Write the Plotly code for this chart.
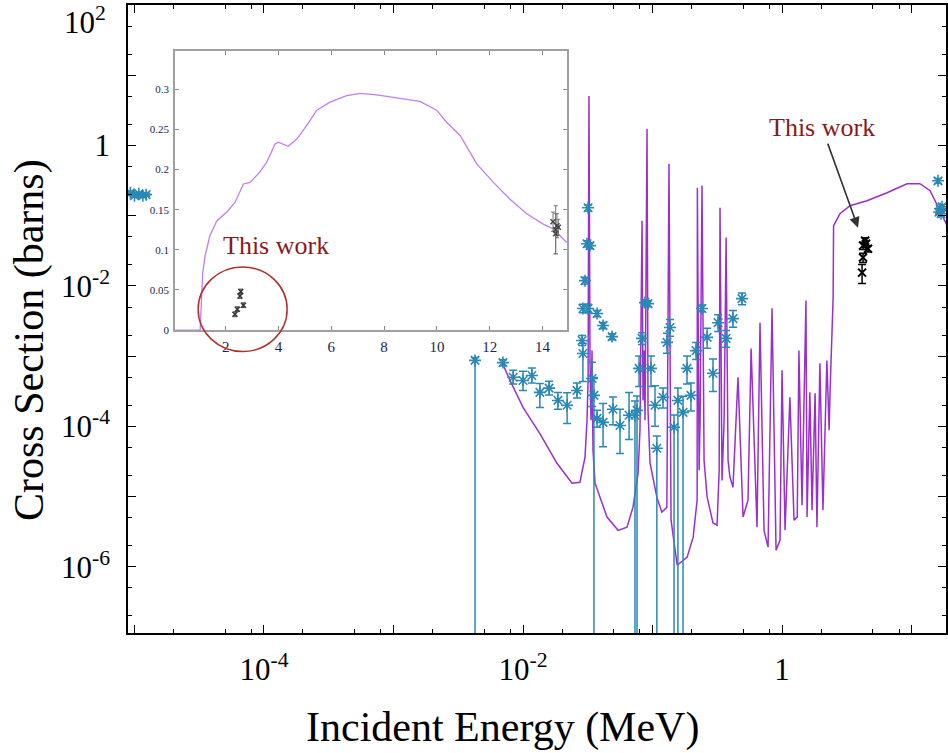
import math
import plotly.graph_objects as go

# ---------------- data (main panel, log-log) ----------------
purple_E = [6.9e-3, 7.94e-3, 1.0e-2, 1.35e-2, 1.83e-2, 2.39e-2, 2.75e-2, 3.01e-2, 3.12e-2, 3.18e-2,
            3.23e-2, 3.29e-2, 3.35e-2, 3.41e-2, 3.47e-2, 3.6e-2, 4.45e-2, 5.42e-2, 6.35e-2, 7.07e-2,
            7.73e-2, 8.0e-2, 8.3e-2, 8.45e-2, 8.6e-2, 8.75e-2, 9.07e-2, 9.23e-2, 9.57e-2, 0.108,
            0.118, 0.129, 0.134, 0.139, 0.155, 0.185, 0.206, 0.221, 0.222, 0.229,
            0.233, 0.241, 0.25, 0.264, 0.293, 0.315, 0.327, 0.332, 0.344, 0.357,
            0.37, 0.383, 0.396, 0.418, 0.457, 0.5, 0.546, 0.577, 0.641, 0.676,
            0.726, 0.78, 0.837, 0.899, 0.965, 1.0, 1.055, 1.15, 1.238, 1.31,
            1.35, 1.427, 1.53, 1.56, 1.64, 1.705, 1.8, 1.86, 1.96, 2.07,
            2.22, 2.31, 2.35, 2.48, 2.50, 2.8, 3.35, 4.53, 6.47, 9.23,
            11.6, 13.9, 16.6, 19.1]
purple_xs = [8.1e-4, 4.5e-4, 1.86e-4, 7.9e-5, 2.98e-5, 1.55e-5, 1.6e-5, 3.6e-5, 1.22e-4, 4.5e-4,
             5.1, 8.7e-4, 1.22e-4, 1.2e-3, 4.56e-5, 1.55e-5, 5.1e-6, 3.3e-6, 3.65e-6, 7.05e-6,
             2.14e-5, 8.8e-5, 8.5e-2, 2.34e-4, 1.2e-3, 1.22e-4, 1.73, 1.69e-4, 2.98e-5, 9.8e-6,
             6.0e-6, 7.0e-6, 0.55, 4.6e-6, 1.05e-6, 1.37e-6, 2.64e-6, 8.9e-6, 0.25, 2.37e-5,
             1.22e-4, 0.27, 3.28e-5, 9.8e-6, 4.2e-6, 3.9e-6, 2.37e-5, 0.13, 1.7e-5, 1.22e-4,
             0.049, 3.28e-5, 1.9e-5, 1.35e-5, 5.0e-4, 5.1e-6, 8.9e-6, 1.29e-3, 3.65e-6, 3.0e-3,
             3.3e-6, 1.9e-6, 4.8e-3, 1.72e-6, 2.4e-6, 6.3e-4, 3.3e-6, 2.6e-4, 4.6e-6, 5.1e-6,
             1.2e-3, 7.5e-6, 6.2e-3, 5.1e-6, 3.05e-4, 6.4e-6, 2.95e-4, 3.65e-6, 7.9e-4, 6.4e-6,
             8.7e-4, 8.8e-5, 3.24e-4, 6.8e-3, 0.072, 0.107, 0.139, 0.164, 0.213, 0.286,
             0.286, 0.228, 0.118, 0.068]

blue_E = [9.3e-6, 1.0e-5, 1.08e-5, 1.16e-5, 1.23e-5,
          4.26e-3, 7.0e-3, 8.4e-3, 1.0e-2, 1.17e-2, 1.35e-2, 1.59e-2, 1.86e-2, 2.19e-2, 2.61e-2,
          2.9e-2, 2.86e-2, 2.9e-2, 3.18e-2, 3.01e-2, 3.12e-2, 3.29e-2, 3.18e-2, 3.73e-2, 4.15e-2,
          4.87e-2, 3.41e-2, 3.53e-2, 3.73e-2, 4.15e-2, 4.95e-2, 5.61e-2, 6.59e-2, 7.32e-2, 7.59e-2,
          7.87e-2, 8.3e-2, 8.75e-2, 9.23e-2, 9.73e-2, 0.1045, 0.108, 0.1205, 0.1365, 0.1294,
          0.1466, 0.157, 0.172, 0.1846, 0.198, 0.217, 0.241, 0.264, 0.293, 0.321,
          0.37, 0.418, 0.491,
          16.0, 16.6, 16.9, 16.3, 17.2]
blue_xs = [0.213, 0.193, 0.206, 0.193, 0.2,
           8.7e-4, 8.1e-4, 5.0e-4, 4.5e-4, 5.3e-4, 3.05e-4, 3.5e-4, 2.34e-4, 2.0e-4, 3.25e-4,
           1.09e-3, 1.67e-3, 4.77e-3, 4.77e-3, 1.19e-2, 4.0e-2, 3.76e-2, 0.13, 4.05e-3, 2.74e-3,
           1.9e-3, 4.8e-4, 2.76e-4, 1.3e-4, 1.14e-4, 1.75e-4, 1.03e-4, 1.44e-4, 1.44e-4, 1.69e-4,
           6.7e-4, 1.79e-3, 5.8e-3, 5.6e-3, 6.7e-4, 2.0e-4, 4.87e-5, 2.6e-4, 2.56e-3, 1.57e-3,
           9.7e-5, 2.34e-4, 1.58e-4, 6.7e-4, 2.76e-4, 1.2e-3, 4.77e-3, 1.85e-3, 5.7e-4, 3.0e-3,
           1.79e-3, 3.43e-3, 6.6e-3,
           0.315, 0.126, 0.107, 0.113, 0.134]
# relative uncertainties (upper / lower); 1.0 lower = bar down to zero
blue_rel_plus = [0.05, 0.05, 0.05, 0.05, 0.05,
                 0.1, 0.1, 0.26, 0.35, 0.28, 0.34, 0.25, 0.3, 0.5, 0.28,
                 0.4, 0.18, 0.15, 0.15, 0.12, 0.1, 0.1, 0.1, 0.1, 0.1,
                 0.1, 0.7, 0.8, 0.3, 0.85, 0.5, 0.7, 1.1, 0.6, 0.6,
                 0.5, 0.2, 0.1, 0.1, 0.5, 0.9, 0.5, 0.35, 0.3, 0.35,
                 0.5, 0.5, 0.7, 0.5, 0.5, 0.3, 0.12, 0.35, 0.6, 0.3,
                 0.3, 0.3, 0.2,
                 0.08, 0.08, 0.08, 0.08, 0.08]
blue_rel_minus = [0.05, 0.05, 0.05, 0.05, 0.05,
                  1.0, 0.1, 0.2, 0.28, 0.22, 0.39, 0.2, 0.25, 0.45, 0.22,
                  0.6, 0.15, 0.13, 0.13, 0.1, 0.1, 0.1, 0.1, 0.1, 0.1,
                  0.1, 0.6, 1.0, 0.25, 0.55, 0.4, 0.6, 0.55, 1.0, 1.0,
                  0.45, 0.18, 0.1, 0.1, 0.45, 0.5, 1.0, 0.3, 0.25, 0.3,
                  1.0, 1.0, 1.0, 0.4, 0.4, 0.25, 0.1, 0.3, 0.45, 0.25,
                  0.25, 0.25, 0.18,
                  0.08, 0.08, 0.08, 0.08, 0.08]

work_E = [4.38, 4.45, 4.61, 4.22, 4.22, 4.15]
work_xs = [0.0443, 0.040, 0.034, 0.0376, 0.0254, 0.0155]
work_rel = [0.1, 0.1, 0.1, 0.12, 0.15, 0.3]

# ---------------- data (inset, linear) ----------------
inset_E = [0.1, 0.5, 1.03, 1.13, 1.22, 1.40, 1.66, 2.04, 2.35, 2.67, 2.92, 3.30, 3.55, 3.87, 3.99,
           4.37, 4.69, 5.07, 5.45, 5.95, 6.58, 7.09, 7.72, 8.35, 9.36, 9.99, 10.37, 10.88, 11.51,
           12.14, 12.77, 13.40, 14.03, 14.41, 14.92]
inset_xs = [0.0, 0.0, 0.0, 0.072, 0.0925, 0.1175, 0.136, 0.147, 0.159, 0.182, 0.184, 0.197, 0.209,
            0.232, 0.234, 0.229, 0.238, 0.255, 0.274, 0.284, 0.292, 0.295, 0.293, 0.29, 0.285,
            0.274, 0.259, 0.2425, 0.207, 0.184, 0.163, 0.145, 0.132, 0.126, 0.109]
inset_work_E = [2.35, 2.44, 2.54, 2.57, 2.67]
inset_work_xs = [0.0196, 0.026, 0.0425, 0.048, 0.031]
inset_work_err = [0.003, 0.003, 0.003, 0.003, 0.003]
inset_ref_E = [14.4, 14.5, 14.55, 14.6, 14.5]
inset_ref_xs = [0.135, 0.125, 0.13, 0.128, 0.12]
inset_ref_err = [0.012, 0.03, 0.015, 0.01, 0.025]

x_ticks = [10.0 ** k for k in range(-5, 2)]
x_ticktext = [" ", "10<sup>-4</sup>", " ", "10<sup>-2</sup>", " ", "1", " "]
y_ticks = [10.0 ** k for k in range(-6, 3)]
y_ticktext = ["10<sup>-6</sup>", " ", "10<sup>-4</sup>", " ", "10<sup>-2</sup>", " ", "1", " ", " "]
top_y_label = "10<sup>2</sup>"
inset_xticks = [2, 4, 6, 8, 10, 12, 14]
inset_yticks = [0, 0.05, 0.1, 0.15, 0.2, 0.25, 0.3]
inset_yticktext = ["0", "0.05", "0.1", "0.15", "0.2", "0.25", "0.3"]

# ---------------- figure ----------------
SERIF = "Liberation Serif, Times New Roman, serif"
PURPLE = "#9a2fd0"
BLUE = "#2a88b5"
RED = "#8b1a1a"

fig = go.Figure()

fig.add_trace(go.Scatter(x=purple_E, y=purple_xs, mode="lines",
                         line=dict(color=PURPLE, width=1.5), xaxis="x", yaxis="y",
                         showlegend=False, hoverinfo="skip"))

fig.add_trace(go.Scatter(
    x=blue_E, y=blue_xs, mode="markers", xaxis="x", yaxis="y", showlegend=False,
    marker=dict(symbol="asterisk-open", size=10, color=BLUE, line=dict(color=BLUE, width=1.6)),
    error_y=dict(type="data", symmetric=False,
                 array=[v * r for v, r in zip(blue_xs, blue_rel_plus)],
                 arrayminus=[v * r for v, r in zip(blue_xs, blue_rel_minus)],
                 color=BLUE, thickness=1.5, width=4)))

fig.add_trace(go.Scatter(
    x=work_E, y=work_xs, mode="markers", xaxis="x", yaxis="y", showlegend=False,
    marker=dict(symbol="x-thin-open", size=8, color="black", line=dict(color="black", width=2)),
    error_y=dict(type="data", array=[v * r for v, r in zip(work_xs, work_rel)],
                 color="black", thickness=1.5, width=4)))

# inset
fig.add_trace(go.Scatter(x=inset_E, y=inset_xs, mode="lines", xaxis="x2", yaxis="y2",
                         line=dict(color="#c27ef0", width=1.3), showlegend=False))
fig.add_trace(go.Scatter(
    x=inset_work_E, y=inset_work_xs, mode="markers", xaxis="x2", yaxis="y2", showlegend=False,
    marker=dict(symbol="x-thin-open", size=5, color="#333", line=dict(color="#333", width=1.5)),
    error_y=dict(type="data", array=inset_work_err, color="#555", thickness=1, width=2)))
fig.add_trace(go.Scatter(
    x=inset_ref_E, y=inset_ref_xs, mode="markers", xaxis="x2", yaxis="y2", showlegend=False,
    marker=dict(symbol="x-thin-open", size=5, color="#444", line=dict(color="#444", width=1.5)),
    error_y=dict(type="data", array=inset_ref_err, color="#777", thickness=1, width=2)))

axis_common = dict(showline=True, linecolor="black", linewidth=1.5, mirror="ticks",
                   ticks="inside", ticklen=8, tickwidth=1.3, tickcolor="black",
                   showgrid=False, zeroline=False, ticklabeloverflow="allow",
                   tickfont=dict(family=SERIF, size=31, color="black"))

fig.update_layout(
    width=948, height=753,
    template="none",
    margin=dict(l=128, r=2, t=5, b=120),
    paper_bgcolor="white", plot_bgcolor="white",
    showlegend=False,
    xaxis=dict(type="log", range=[-5.05, 1.266], tickmode="array",
               tickvals=x_ticks, ticktext=x_ticktext, ticklabelstandoff=8,
               minor=dict(ticks="inside", ticklen=4, tickcolor="black",
                          tickvals=[m * 10.0 ** k for k in range(-6, 2) for m in (2, 5, 8)]),
               domain=[0, 1], **axis_common),
    yaxis=dict(type="log", range=[-6.944, 2.003], tickmode="array",
               tickvals=y_ticks, ticktext=y_ticktext, ticklabelstandoff=10,
               minor=dict(ticks="inside", ticklen=4, tickcolor="black",
                          tickvals=[m * 10.0 ** k for k in range(-7, 2) for m in (2, 5)]),
               domain=[0, 1], **axis_common),
    xaxis2=dict(domain=[0.0575, 0.5367], anchor="y2", range=[0.08, 14.93],
                tickmode="array", tickvals=inset_xticks,
                showline=True, linecolor="#a0a0a0", linewidth=1.5, mirror="ticks",
                ticks="inside", ticklen=4, tickcolor="#888", showgrid=False, zeroline=False,
                tickfont=dict(family=SERIF, size=15, color="#1c2550"), ticklabelstandoff=2),
    yaxis2=dict(domain=[0.4824, 0.9265], anchor="x2", range=[0, 0.3475],
                tickmode="array", tickvals=inset_yticks, ticktext=inset_yticktext,
                showline=True, linecolor="#a0a0a0", linewidth=1.5, mirror="ticks",
                ticks="inside", ticklen=4, tickcolor="#888", showgrid=False, zeroline=False,
                tickfont=dict(family=SERIF, size=11, color="#1c2550"), ticklabelstandoff=2),
)

annotations = [
    dict(text="Incident Energy (MeV)", xref="paper", yref="paper", x=0.4584, y=-0.151,
         xanchor="center", yanchor="middle", showarrow=False,
         font=dict(family=SERIF, size=42, color="black")),
    dict(text="Cross Section (barns)", xref="paper", yref="paper", x=-0.1198, y=0.4666,
         xanchor="center", yanchor="middle", showarrow=False, textangle=-90,
         font=dict(family=SERIF, size=42, color="black")),
    dict(text=top_y_label, xref="paper", yref="paper", x=-0.0244, y=0.975,
         xanchor="right", yanchor="middle", showarrow=False,
         font=dict(family=SERIF, size=31, color="black")),
    dict(text="This work", xref="x", yref="y", x=math.log10(3.86), y=math.log10(0.0678),
         ax=-36, ay=-100, showarrow=True, arrowhead=2, arrowsize=1.3, arrowwidth=1.6,
         arrowcolor="#333", font=dict(family=SERIF, size=26, color=RED)),
    dict(text="This work", xref="x2", yref="y2", x=3.9, y=0.105, showarrow=False,
         font=dict(family=SERIF, size=26, color=RED)),
]
fig.update_layout(annotations=annotations)

fig.add_shape(type="circle", xref="x2 domain", yref="y2 domain",
              x0=0.059, x1=0.286, y0=-0.077, y1=0.226,
              line=dict(color="#b03030", width=1.5))

fig.write_html("out.html", config={"displayModeBar": False},
               post_script="document.body.style.margin='0px';document.body.style.padding='0px';")
